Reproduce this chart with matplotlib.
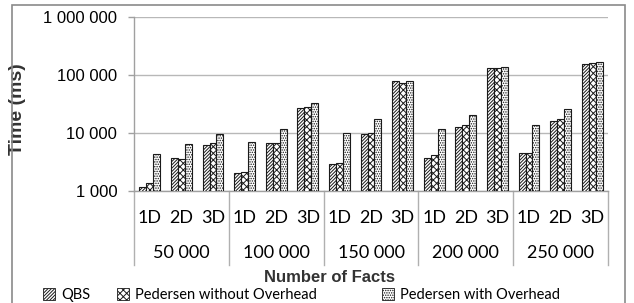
import numpy as np
import matplotlib
matplotlib.use("Agg")
import matplotlib.pyplot as plt
from matplotlib.patches import Rectangle, Patch
from matplotlib.ticker import FixedLocator, FuncFormatter
import matplotlib.transforms as mtransforms

# data (time in ms)
groups = ["50 000", "100 000", "150 000", "200 000", "250 000"]
dims = ["1D", "2D", "3D"]
series = ["QBS", "Pedersen without Overhead", "Pedersen with Overhead"]
qbs = [1170, 3700, 6200, 2020, 6600, 26600, 2880, 9600, 80000, 3700, 12800, 130000, 4470, 16100, 156000]
ped_no_ovh = [1370, 3560, 6600, 2100, 6800, 28400, 3000, 10100, 73600, 4100, 13600, 130000, 4600, 17200, 160000]
ped_ovh = [4350, 6450, 9500, 6900, 11600, 33300, 9900, 17200, 78700, 11600, 20600, 135000, 13600, 26300, 165000]

hatches = ["//////////", "xxxxx", "......."]

W, H = 634, 303
plt.rcParams["hatch.linewidth"] = 0.7
fig = plt.figure(figsize=(W / 100, H / 100), dpi=100)

# plot area in pixels: x 134..608, y 17..191
ax = fig.add_axes([134 / W, (H - 191) / H, (608 - 134) / W, (191 - 17) / H])

x = np.arange(len(qbs)) + 0.5
bw = 0.22
for k, vals in enumerate([qbs, ped_no_ovh, ped_ovh]):
    ax.bar(x + (k - 1) * bw, vals, width=bw, bottom=0, color="white",
           edgecolor="#1a1a1a", linewidth=0.8, hatch=hatches[k], zorder=3)

ax.set_yscale("log")
ax.set_ylim(1000, 1000000)
ax.set_xlim(0, len(qbs))
ax.yaxis.set_major_locator(FixedLocator([1e3, 1e4, 1e5, 1e6]))
ax.yaxis.set_minor_locator(FixedLocator([]))
ax.yaxis.set_major_formatter(FuncFormatter(lambda v, p: f"{int(round(v)):,}".replace(",", " ")))
ax.tick_params(axis="y", length=4, width=1, color="#a0a0a0", pad=8,
               labelsize=12, labelfontfamily="Liberation Sans")
ax.grid(axis="y", color="#b8b8b8", linewidth=1, zorder=0)
ax.set_xticks([])
for s in ["top", "right"]:
    ax.spines[s].set_visible(False)
for s in ["left", "bottom"]:
    ax.spines[s].set_color("#a0a0a0")
    ax.spines[s].set_linewidth(1)

# two-level category axis
trans = mtransforms.blended_transform_factory(ax.transData, ax.transAxes)
for i in range(len(groups) + 1):
    ax.plot([i * 3, i * 3], [0, -0.425], transform=trans, color="#b0b0b0",
            linewidth=1, clip_on=False)
for i, xv in enumerate(x):
    ax.text(xv, -0.155, dims[i % 3], transform=trans, ha="center", va="center",
            fontsize=13, family="Lato")
for g, name in enumerate(groups):
    ax.text(g * 3 + 1.5, -0.356, name, transform=trans, ha="center", va="center",
            fontsize=13, family="Lato")

ax.set_ylabel("Time (ms)", fontsize=14, fontweight="bold", family="Liberation Sans",
              color="#333333")
ax.yaxis.set_label_coords(-(134 - 26) / (608 - 134), 0.47)

fig.text(330 / W, 1 - 277 / H, "Number of Facts", ha="center", va="center",
         fontsize=12, fontweight="bold", family="Liberation Sans", color="#333333")

# legend entries sit at fixed spots like the original
legend_x = [43, 117, 382]
for h, label, lx in zip(hatches, series, legend_x):
    patch = Patch(facecolor="white", edgecolor="#1a1a1a", hatch=h, linewidth=0.6)
    leg = fig.legend([patch], [label], loc="center left",
                     bbox_to_anchor=(lx / W, 1 - 295 / H), frameon=False,
                     prop={"family": "Lato", "size": 10.5},
                     handlelength=0.85, handleheight=0.85, handletextpad=0.4,
                     borderaxespad=0, borderpad=0)

# outer chart frame
fig.patches.append(Rectangle((12 / W, -0.01), (625 - 12) / W, 1 - 5 / H + 0.01,
                             transform=fig.transFigure, fill=False,
                             edgecolor="#8a8a8a", linewidth=1.2))

fig.savefig("out.png", dpi=100)
